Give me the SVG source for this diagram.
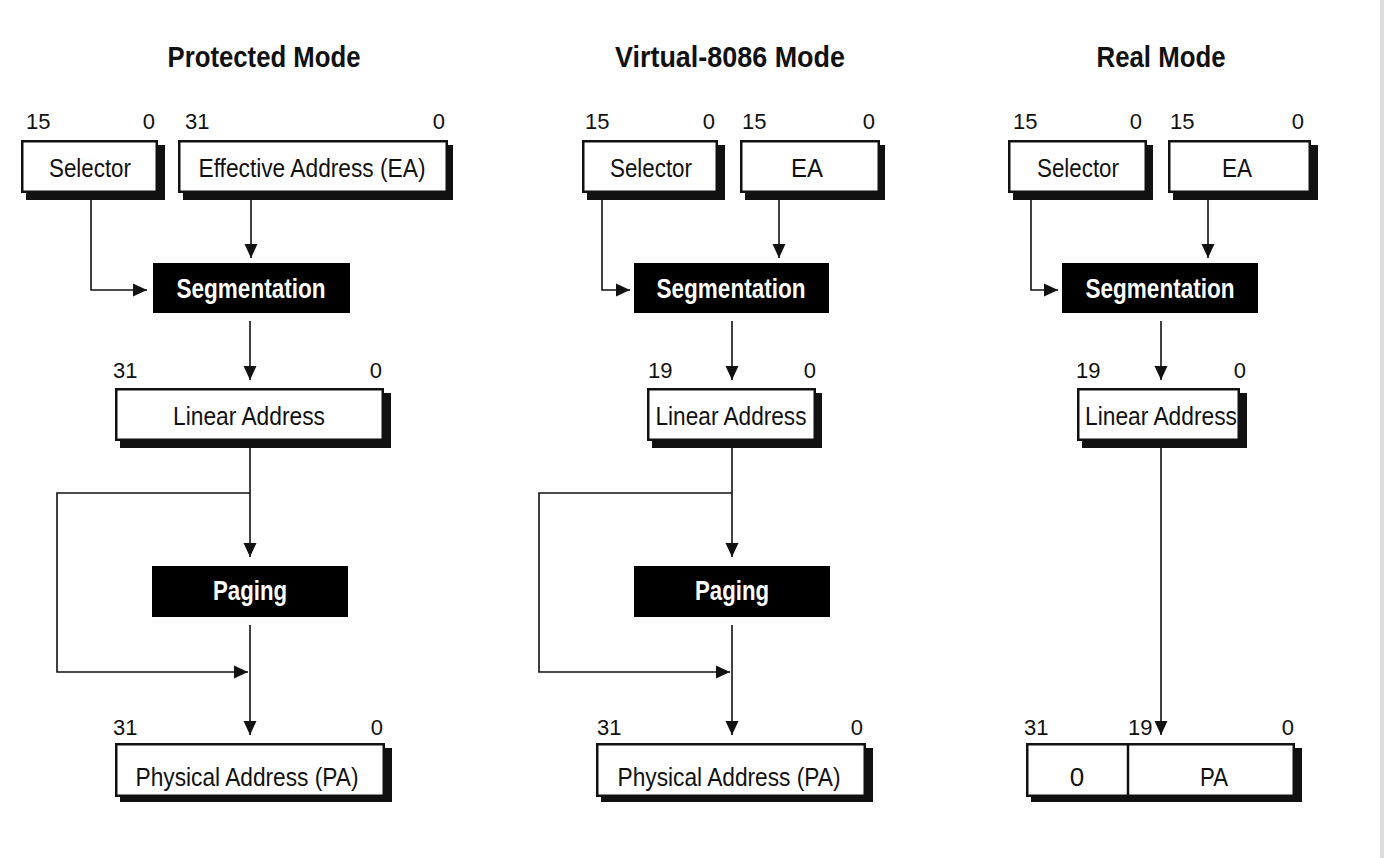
<svg xmlns="http://www.w3.org/2000/svg" width="1384" height="858" viewBox="0 0 1384 858">
<defs>
<style>
text{font-family:"Liberation Sans Narrow","Liberation Sans",Arial,sans-serif;fill:#111}
.t{font-size:30px;font-weight:bold;text-anchor:middle}
.n{font-size:22px}
.e{text-anchor:end}
.l{font-size:26px;text-anchor:middle}
.w{font-size:28px;font-weight:bold;fill:#fff;text-anchor:middle}
.box{fill:#fff;stroke:#111;stroke-width:2.5}
.sh{fill:#111}
.blk{fill:#000}
.c{fill:none;stroke:#111;stroke-width:1.6}
</style>
<marker id="ah" markerUnits="userSpaceOnUse" markerWidth="14" markerHeight="14" refX="14" refY="7" orient="auto" viewBox="0 0 14 14"><path d="M0,0.5 L14,7 L0,13.5 z" fill="#111"/></marker>
</defs>
<rect x="0" y="0" width="1384" height="858" fill="#fff"/>
<rect x="1380" y="0" width="4" height="858" fill="#ddd"/>

<g id="titles">
<text class="t" x="264" y="67" textLength="193" lengthAdjust="spacingAndGlyphs">Protected Mode</text>
<text class="t" x="730" y="67" textLength="230" lengthAdjust="spacingAndGlyphs">Virtual-8086 Mode</text>
<text class="t" x="1161" y="67" textLength="129" lengthAdjust="spacingAndGlyphs">Real Mode</text>
</g>

<g id="connectors">
<path class="c" d="M91,193 V290 H147" marker-end="url(#ah)"/>
<path class="c" d="M251,193 V258" marker-end="url(#ah)"/>
<path class="c" d="M250,321 V380" marker-end="url(#ah)"/>
<path class="c" d="M250,441 V557" marker-end="url(#ah)"/>
<path class="c" d="M250,493 H57 V672 H248" marker-end="url(#ah)"/>
<path class="c" d="M250,625 V735" marker-end="url(#ah)"/>

<path class="c" d="M602,193 V290 H630" marker-end="url(#ah)"/>
<path class="c" d="M779,193 V258" marker-end="url(#ah)"/>
<path class="c" d="M732,321 V380" marker-end="url(#ah)"/>
<path class="c" d="M732,441 V557" marker-end="url(#ah)"/>
<path class="c" d="M732,493 H539 V672 H730" marker-end="url(#ah)"/>
<path class="c" d="M732,625 V735" marker-end="url(#ah)"/>

<path class="c" d="M1031,193 V290 H1058" marker-end="url(#ah)"/>
<path class="c" d="M1208,193 V258" marker-end="url(#ah)"/>
<path class="c" d="M1161,321 V380" marker-end="url(#ah)"/>
<path class="c" d="M1161,441 V735" marker-end="url(#ah)"/>
</g>

<!-- Protected mode -->
<g id="p-selector">
<rect class="sh" x="26" y="145" width="139" height="55"/>
<rect class="box" x="22.25" y="141.25" width="134.5" height="50.5"/>
<text class="n" x="26" y="129">15</text><text class="n e" x="155" y="129">0</text>
<text class="l" x="90" y="177" textLength="82" lengthAdjust="spacingAndGlyphs">Selector</text>
</g>
<g id="p-ea">
<rect class="sh" x="183" y="145" width="270" height="55"/>
<rect class="box" x="179.25" y="141.25" width="267.5" height="50.5"/>
<text class="n" x="185" y="129">31</text><text class="n e" x="445" y="129">0</text>
<text class="l" x="312" y="177" textLength="227" lengthAdjust="spacingAndGlyphs">Effective Address (EA)</text>
</g>
<g id="p-seg">
<rect class="blk" x="153" y="263" width="197" height="50"/>
<text class="w" x="251" y="298" textLength="149" lengthAdjust="spacingAndGlyphs">Segmentation</text>
</g>
<g id="p-linear">
<rect class="sh" x="120" y="393" width="271" height="55"/>
<rect class="box" x="116.25" y="389.25" width="266.5" height="50.5"/>
<text class="n" x="113" y="378">31</text><text class="n e" x="382" y="378">0</text>
<text class="l" x="249" y="425" textLength="152" lengthAdjust="spacingAndGlyphs">Linear Address</text>
</g>
<g id="p-paging">
<rect class="blk" x="152" y="566" width="196" height="51"/>
<text class="w" x="250" y="600" textLength="74" lengthAdjust="spacingAndGlyphs">Paging</text>
</g>
<g id="p-pa">
<rect class="sh" x="120" y="748" width="272" height="54"/>
<rect class="box" x="116.25" y="744.25" width="267.5" height="51.5"/>
<text class="n" x="113" y="735">31</text><text class="n e" x="383" y="735">0</text>
<text class="l" x="247" y="786" textLength="223" lengthAdjust="spacingAndGlyphs">Physical Address (PA)</text>
</g>

<!-- Virtual-8086 -->
<g id="v-selector">
<rect class="sh" x="587" y="145" width="138" height="55"/>
<rect class="box" x="583.25" y="141.25" width="133.5" height="50.5"/>
<text class="n" x="585" y="129">15</text><text class="n e" x="715" y="129">0</text>
<text class="l" x="651" y="177" textLength="82" lengthAdjust="spacingAndGlyphs">Selector</text>
</g>
<g id="v-ea">
<rect class="sh" x="745" y="145" width="140" height="55"/>
<rect class="box" x="741.25" y="141.25" width="137.5" height="50.5"/>
<text class="n" x="742" y="129">15</text><text class="n e" x="875" y="129">0</text>
<text class="l" x="807" y="177" textLength="32" lengthAdjust="spacingAndGlyphs">EA</text>
</g>
<g id="v-seg">
<rect class="blk" x="634" y="263" width="195" height="50"/>
<text class="w" x="731" y="298" textLength="149" lengthAdjust="spacingAndGlyphs">Segmentation</text>
</g>
<g id="v-linear">
<rect class="sh" x="652" y="393" width="170" height="55"/>
<rect class="box" x="648.25" y="389.25" width="166.5" height="50.5"/>
<text class="n" x="648" y="378">19</text><text class="n e" x="816" y="378">0</text>
<text class="l" x="731" y="425" textLength="151" lengthAdjust="spacingAndGlyphs">Linear Address</text>
</g>
<g id="v-paging">
<rect class="blk" x="634" y="566" width="196" height="51"/>
<text class="w" x="732" y="600" textLength="74" lengthAdjust="spacingAndGlyphs">Paging</text>
</g>
<g id="v-pa">
<rect class="sh" x="601" y="748" width="272" height="54"/>
<rect class="box" x="597.25" y="744.25" width="267.5" height="51.5"/>
<text class="n" x="597" y="735">31</text><text class="n e" x="863" y="735">0</text>
<text class="l" x="729" y="786" textLength="223" lengthAdjust="spacingAndGlyphs">Physical Address (PA)</text>
</g>

<!-- Real mode -->
<g id="r-selector">
<rect class="sh" x="1013" y="145" width="140" height="55"/>
<rect class="box" x="1009.25" y="141.25" width="136.5" height="50.5"/>
<text class="n" x="1013" y="129">15</text><text class="n e" x="1142" y="129">0</text>
<text class="l" x="1078" y="177" textLength="82" lengthAdjust="spacingAndGlyphs">Selector</text>
</g>
<g id="r-ea">
<rect class="sh" x="1173" y="145" width="145" height="55"/>
<rect class="box" x="1169.25" y="141.25" width="140.5" height="50.5"/>
<text class="n" x="1170" y="129">15</text><text class="n e" x="1304" y="129">0</text>
<text class="l" x="1237" y="177" textLength="30" lengthAdjust="spacingAndGlyphs">EA</text>
</g>
<g id="r-seg">
<rect class="blk" x="1062" y="263" width="196" height="50"/>
<text class="w" x="1160" y="298" textLength="149" lengthAdjust="spacingAndGlyphs">Segmentation</text>
</g>
<g id="r-linear">
<rect class="sh" x="1082" y="393" width="165" height="55"/>
<rect class="box" x="1078.25" y="389.25" width="160.5" height="50.5"/>
<text class="n" x="1076" y="378">19</text><text class="n e" x="1246" y="378">0</text>
<text class="l" x="1161" y="425" textLength="152" lengthAdjust="spacingAndGlyphs">Linear Address</text>
</g>
<g id="r-pa">
<rect class="sh" x="1031" y="748" width="271" height="54"/>
<rect class="box" x="1027.25" y="744.25" width="266.5" height="51.5"/>
<line x1="1128" y1="744" x2="1128" y2="796" stroke="#111" stroke-width="2.5"/>
<text class="n" x="1024" y="735">31</text><text class="n" x="1128" y="735">19</text><text class="n e" x="1294" y="735">0</text>
<text class="l" x="1077" y="786">0</text>
<text class="l" x="1214" y="786" textLength="28" lengthAdjust="spacingAndGlyphs">PA</text>
</g>
</svg>
